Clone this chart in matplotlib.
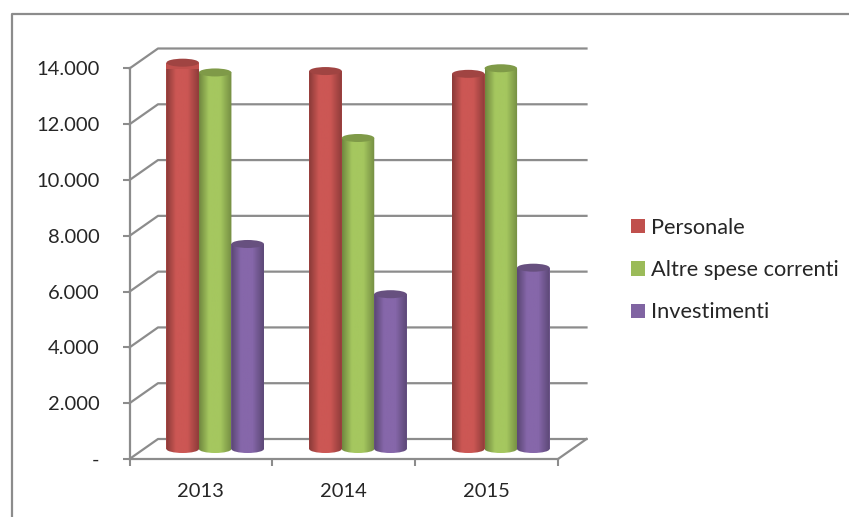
import numpy as np
import matplotlib
matplotlib.use('Agg')
import matplotlib.pyplot as plt
from matplotlib.colors import LinearSegmentedColormap
from matplotlib.lines import Line2D
from matplotlib.patches import Ellipse, Patch, PathPatch
from matplotlib.path import Path

plt.rcParams['font.family'] = ['Lato', 'DejaVu Sans']

years = ['2013', '2014', '2015']
series_names = ['Personale', 'Altre spese correnti', 'Investimenti']
personale = [13850, 13550, 13450]
altre_spese = [13500, 11150, 13650]
investimenti = [7350, 5550, 6500]
y_ticks = [0, 2000, 4000, 6000, 8000, 10000, 12000, 14000]
y_labels = ['-', '2.000', '4.000', '6.000', '8.000', '10.000', '12.000', '14.000']

W, H = 849, 517
GRID = '#8c8c8c'
TEXT = '#262626'
colors = ['#c0504d', '#9bbb59', '#8064a2']
# edge, middle, edge of the cylinder shading, and the top cap
shades = [('#8a3a38', '#cc5754', '#8f3c3a', '#a04442'),
          ('#70883f', '#a5c75f', '#748d42', '#7f9a48'),
          ('#5a4673', '#8667aa', '#5c4876', '#67507f')]

fig = plt.figure(figsize=(W / 100, H / 100), dpi=100, facecolor='white')
ax = fig.add_axes([129.5 / W, (H - 459) / H, 428.5 / W, 390.5 / H])
ax.set_xlim(0, 3)
ax.set_ylim(0, 14000)

# 3D look: sizes in pixels turned into data units
px_x = 3 / 428.5
px_y = 14000 / 390.5
depth_x = 28.5 * px_x
depth_y = 20 * px_y
bar_w = 32.5 * px_x
cap_h = 4 * px_y

# back wall and left wall lines
for v in y_ticks:
    ax.plot([0, depth_x, 3 + depth_x], [v, v + depth_y, v + depth_y],
            color=GRID, lw=1.6, clip_on=False, zorder=1)
ax.plot([3, 3 + depth_x], [0, depth_y], color=GRID, lw=1.6, clip_on=False, zorder=1)

for s, values in enumerate([personale, altre_spese, investimenti]):
    edge_l, mid, edge_r, cap = shades[s]
    cmap = LinearSegmentedColormap.from_list(
        'c', [(0, edge_l), (0.3, mid), (0.65, mid), (1, edge_r)])
    for i, v in enumerate(values):
        x0 = i + 0.5 + depth_x / 2 + (s - 1.5) * bar_w
        y0 = depth_y / 2
        ax.bar(x0, v, bar_w, bottom=y0, align='edge', color=colors[s], clip_on=False, zorder=3 + s)
        # body with rounded bottom, gradient clipped to it
        k = 0.5523
        r = bar_w / 2
        verts = [(x0, y0 + v), (x0, y0),
                 (x0, y0 - k * cap_h), (x0 + r - k * r, y0 - cap_h), (x0 + r, y0 - cap_h),
                 (x0 + r + k * r, y0 - cap_h), (x0 + bar_w, y0 - k * cap_h), (x0 + bar_w, y0),
                 (x0 + bar_w, y0 + v), (x0, y0 + v)]
        codes = [Path.MOVETO, Path.LINETO, Path.CURVE4, Path.CURVE4, Path.CURVE4,
                 Path.CURVE4, Path.CURVE4, Path.CURVE4, Path.LINETO, Path.CLOSEPOLY]
        body = PathPatch(Path(verts, codes), transform=ax.transData, fc='none', ec='none')
        ax.add_patch(body)
        im = ax.imshow(np.linspace(0, 1, 64)[None, :], cmap=cmap, aspect='auto',
                       extent=[x0, x0 + bar_w, y0 - cap_h, y0 + v], zorder=3 + s)
        im.set_clip_path(body)
        body.set_clip_on(False)
        ax.add_patch(Ellipse((x0 + r, y0 + v), bar_w, 2 * cap_h, fc=cap, ec='none',
                             clip_on=False, zorder=3 + s))
ax.set_xlim(0, 3)
ax.set_ylim(0, 14000)

for side in ['top', 'right']:
    ax.spines[side].set_visible(False)
for side in ['left', 'bottom']:
    ax.spines[side].set_color(GRID)
    ax.spines[side].set_linewidth(1.6)
ax.patch.set_alpha(0)

ax.set_yticks(y_ticks)
ax.set_yticklabels(y_labels)
ax.set_xticks([0, 1, 2, 3])
ax.set_xticklabels([])
ax.set_xticks([0.5, 1.5, 2.5], minor=True)
ax.set_xticklabels(years, minor=True)
ax.tick_params(axis='x', which='major', length=5, width=1.5, color=GRID)
ax.tick_params(axis='x', which='minor', length=0, pad=17, labelsize=14.5, labelcolor=TEXT)
ax.tick_params(axis='y', length=5, width=1.5, color=GRID, pad=16.5, labelsize=14.5, labelcolor=TEXT)

handles = [Patch(fc=c, ec='none') for c in colors]
fig.legend(handles, series_names, loc='center left', bbox_to_anchor=(611.5 / W, (H - 270) / H),
           frameon=False, fontsize=15.7, labelspacing=1.03, handlelength=0.64, handleheight=0.64,
           handletextpad=0.28, labelcolor=TEXT)

# outer chart border, only left and top are in the crop
fig.add_artist(Line2D([11.5 / W, 11.5 / W, 1], [0, (H - 13.5) / H, (H - 13.5) / H],
                      color='#8c8c8c', lw=1.6, transform=fig.transFigure))

fig.savefig('out.png', dpi=100)
